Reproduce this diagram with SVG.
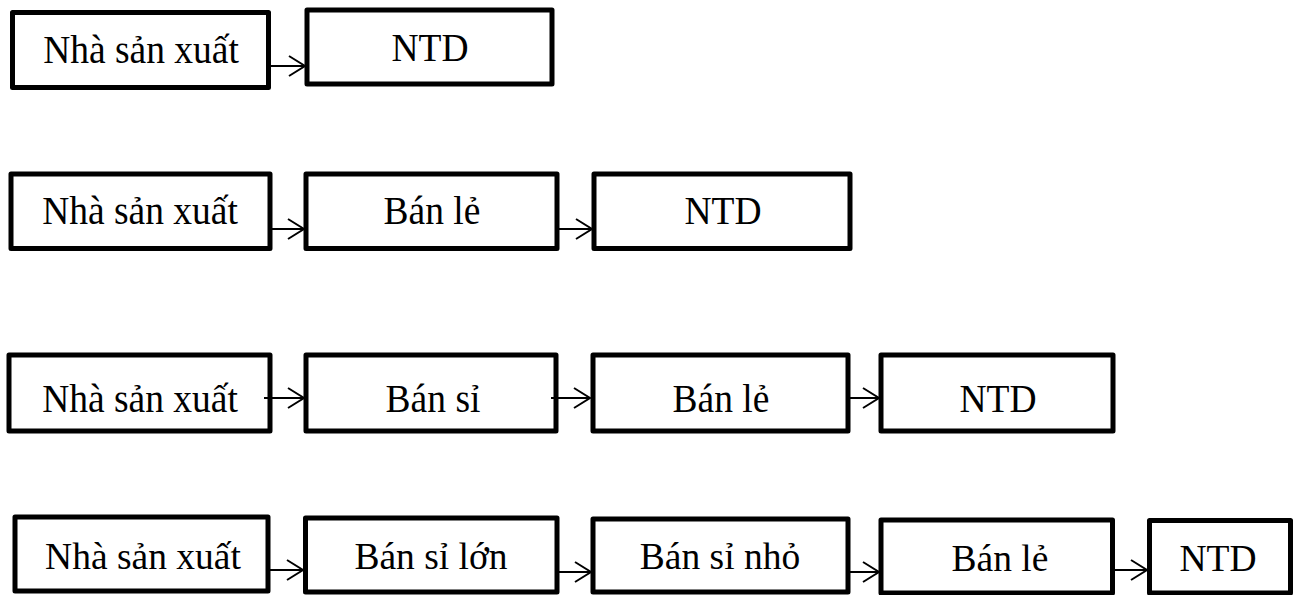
<svg xmlns="http://www.w3.org/2000/svg" width="1301" height="595" viewBox="0 0 1301 595">
<style>
.box{fill:#fff;stroke:#000;stroke-width:5;stroke-linejoin:round}
.t{font-family:"Liberation Serif","Times New Roman",serif;font-size:37.5px;fill:#000;text-anchor:middle}
.c{stroke:#000;stroke-width:2;fill:none}
</style>
<defs>
<marker id="ah" markerWidth="20" markerHeight="24" refX="18" refY="12" orient="auto" markerUnits="userSpaceOnUse">
<path d="M2,2 L18,12 L2,22" fill="none" stroke="#000" stroke-width="2"/>
</marker>
</defs>
<rect width="1301" height="595" fill="#fff"/>
<!-- Row 1 -->
<g id="r1n1"><rect class="box" x="12.5" y="12.5" width="256" height="75"/><text class="t" transform="translate(141,63) scale(1,1.05)">Nhà sản xuất</text></g>
<g id="r1n2"><rect class="box" x="307" y="10" width="245" height="74"/><text class="t" transform="translate(430,61) scale(1,1.05)">NTD</text></g>
<!-- Row 2 -->
<g id="r2n1"><rect class="box" x="11" y="174" width="259" height="74.5"/><text class="t" transform="translate(140,224) scale(1,1.08)">Nhà sản xuất</text></g>
<g id="r2n2"><rect class="box" x="306" y="174" width="251" height="74.5"/><text class="t" transform="translate(432,224) scale(1,1.08)">Bán lẻ</text></g>
<g id="r2n3"><rect class="box" x="594" y="174" width="256" height="74.5"/><text class="t" transform="translate(723,224) scale(1,1.08)">NTD</text></g>
<!-- Row 3 -->
<g id="r3n1"><rect class="box" x="9" y="355" width="261" height="76"/><text class="t" transform="translate(140,412) scale(1,1.08)">Nhà sản xuất</text></g>
<g id="r3n2"><rect class="box" x="306" y="355" width="250" height="76"/><text class="t" transform="translate(433,412) scale(1,1.08)">Bán sỉ</text></g>
<g id="r3n3"><rect class="box" x="593" y="355" width="255" height="76"/><text class="t" transform="translate(721,412) scale(1,1.08)">Bán lẻ</text></g>
<g id="r3n4"><rect class="box" x="881" y="355" width="232" height="76"/><text class="t" transform="translate(998,412) scale(1,1.08)">NTD</text></g>
<!-- Row 4 -->
<g id="r4n1"><rect class="box" x="15" y="517" width="253" height="74"/><text class="t" transform="translate(143,569)">Nhà sản xuất</text></g>
<g id="r4n2"><rect class="box" x="305.5" y="518" width="251.5" height="74"/><text class="t" transform="translate(431,569)">Bán sỉ lớn</text></g>
<g id="r4n3"><rect class="box" x="593" y="519" width="255" height="73"/><text class="t" transform="translate(720,569)">Bán sỉ nhỏ</text></g>
<g id="r4n4"><rect class="box" x="881" y="520" width="231.5" height="73"/><text class="t" transform="translate(1000,571)">Bán lẻ</text></g>
<g id="r4n5"><rect class="box" x="1149.5" y="520.5" width="141" height="72.5"/><text class="t" transform="translate(1218,571)">NTD</text></g>
<g id="connectors">
<line class="c" x1="269" y1="66" x2="305" y2="66" marker-end="url(#ah)"/>
<line class="c" x1="270" y1="229" x2="304" y2="229" marker-end="url(#ah)"/>
<line class="c" x1="557" y1="229" x2="592" y2="229" marker-end="url(#ah)"/>
<line class="c" x1="264" y1="398" x2="304" y2="398" marker-end="url(#ah)"/>
<line class="c" x1="551" y1="398" x2="590" y2="398" marker-end="url(#ah)"/>
<line class="c" x1="848" y1="398" x2="879" y2="398" marker-end="url(#ah)"/>
<line class="c" x1="268" y1="570" x2="303" y2="570" marker-end="url(#ah)"/>
<line class="c" x1="557" y1="572" x2="591" y2="572" marker-end="url(#ah)"/>
<line class="c" x1="848" y1="572" x2="879" y2="572" marker-end="url(#ah)"/>
<line class="c" x1="1112" y1="570" x2="1147" y2="570" marker-end="url(#ah)"/>
</g>
</svg>
